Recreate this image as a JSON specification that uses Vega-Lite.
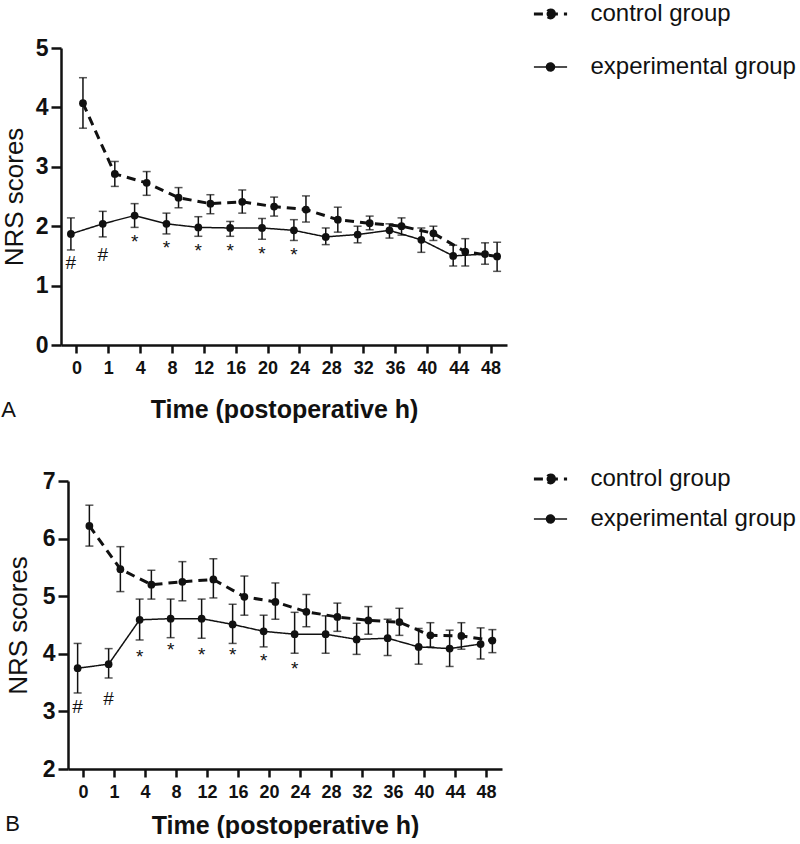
{
  "$schema": "https://vega.github.io/schema/vega-lite/v6.json",
  "padding": {"left": 1, "top": 2, "right": 0, "bottom": 0},
  "background": "white",
  "datasets": {
    "series": [
      {"p":"A","t":0,"g":"experimental group","m":1.87,"lo":1.60,"hi":2.14},
      {"p":"A","t":1,"g":"experimental group","m":2.04,"lo":1.82,"hi":2.25},
      {"p":"A","t":4,"g":"experimental group","m":2.18,"lo":1.98,"hi":2.38},
      {"p":"A","t":8,"g":"experimental group","m":2.04,"lo":1.87,"hi":2.22},
      {"p":"A","t":12,"g":"experimental group","m":1.98,"lo":1.83,"hi":2.16},
      {"p":"A","t":16,"g":"experimental group","m":1.97,"lo":1.83,"hi":2.08},
      {"p":"A","t":20,"g":"experimental group","m":1.97,"lo":1.78,"hi":2.13},
      {"p":"A","t":24,"g":"experimental group","m":1.93,"lo":1.76,"hi":2.11},
      {"p":"A","t":28,"g":"experimental group","m":1.82,"lo":1.69,"hi":1.97},
      {"p":"A","t":32,"g":"experimental group","m":1.86,"lo":1.72,"hi":2.00},
      {"p":"A","t":36,"g":"experimental group","m":1.93,"lo":1.80,"hi":2.04},
      {"p":"A","t":40,"g":"experimental group","m":1.77,"lo":1.56,"hi":1.97},
      {"p":"A","t":44,"g":"experimental group","m":1.50,"lo":1.33,"hi":1.68},
      {"p":"A","t":48,"g":"experimental group","m":1.53,"lo":1.36,"hi":1.72},
      {"p":"A","t":0,"g":"control group","m":4.07,"lo":3.65,"hi":4.50},
      {"p":"A","t":1,"g":"control group","m":2.88,"lo":2.67,"hi":3.09},
      {"p":"A","t":4,"g":"control group","m":2.73,"lo":2.52,"hi":2.92},
      {"p":"A","t":8,"g":"control group","m":2.48,"lo":2.31,"hi":2.65},
      {"p":"A","t":12,"g":"control group","m":2.38,"lo":2.21,"hi":2.53},
      {"p":"A","t":16,"g":"control group","m":2.41,"lo":2.22,"hi":2.61},
      {"p":"A","t":20,"g":"control group","m":2.33,"lo":2.17,"hi":2.49},
      {"p":"A","t":24,"g":"control group","m":2.28,"lo":2.07,"hi":2.51},
      {"p":"A","t":28,"g":"control group","m":2.11,"lo":1.90,"hi":2.32},
      {"p":"A","t":32,"g":"control group","m":2.05,"lo":1.94,"hi":2.17},
      {"p":"A","t":36,"g":"control group","m":2.00,"lo":1.85,"hi":2.14},
      {"p":"A","t":40,"g":"control group","m":1.88,"lo":1.76,"hi":2.00},
      {"p":"A","t":44,"g":"control group","m":1.57,"lo":1.33,"hi":1.79},
      {"p":"A","t":48,"g":"control group","m":1.49,"lo":1.24,"hi":1.73},
      {"p":"B","t":0,"g":"experimental group","m":3.75,"lo":3.32,"hi":4.18},
      {"p":"B","t":1,"g":"experimental group","m":3.82,"lo":3.58,"hi":4.09},
      {"p":"B","t":4,"g":"experimental group","m":4.59,"lo":4.24,"hi":4.95},
      {"p":"B","t":8,"g":"experimental group","m":4.61,"lo":4.28,"hi":4.95},
      {"p":"B","t":12,"g":"experimental group","m":4.61,"lo":4.27,"hi":4.95},
      {"p":"B","t":16,"g":"experimental group","m":4.51,"lo":4.18,"hi":4.86},
      {"p":"B","t":20,"g":"experimental group","m":4.39,"lo":4.12,"hi":4.67},
      {"p":"B","t":24,"g":"experimental group","m":4.34,"lo":4.01,"hi":4.72},
      {"p":"B","t":28,"g":"experimental group","m":4.34,"lo":4.01,"hi":4.66},
      {"p":"B","t":32,"g":"experimental group","m":4.25,"lo":3.99,"hi":4.53},
      {"p":"B","t":36,"g":"experimental group","m":4.27,"lo":3.97,"hi":4.60},
      {"p":"B","t":40,"g":"experimental group","m":4.12,"lo":3.82,"hi":4.44},
      {"p":"B","t":44,"g":"experimental group","m":4.09,"lo":3.78,"hi":4.41},
      {"p":"B","t":48,"g":"experimental group","m":4.17,"lo":3.91,"hi":4.45},
      {"p":"B","t":0,"g":"control group","m":6.22,"lo":5.87,"hi":6.58},
      {"p":"B","t":1,"g":"control group","m":5.47,"lo":5.08,"hi":5.86},
      {"p":"B","t":4,"g":"control group","m":5.20,"lo":4.95,"hi":5.45},
      {"p":"B","t":8,"g":"control group","m":5.25,"lo":4.92,"hi":5.60},
      {"p":"B","t":12,"g":"control group","m":5.29,"lo":4.97,"hi":5.65},
      {"p":"B","t":16,"g":"control group","m":4.99,"lo":4.67,"hi":5.35},
      {"p":"B","t":20,"g":"control group","m":4.90,"lo":4.60,"hi":5.23},
      {"p":"B","t":24,"g":"control group","m":4.73,"lo":4.47,"hi":5.03},
      {"p":"B","t":28,"g":"control group","m":4.64,"lo":4.39,"hi":4.88},
      {"p":"B","t":32,"g":"control group","m":4.58,"lo":4.34,"hi":4.82},
      {"p":"B","t":36,"g":"control group","m":4.55,"lo":4.32,"hi":4.79},
      {"p":"B","t":40,"g":"control group","m":4.32,"lo":4.12,"hi":4.54},
      {"p":"B","t":44,"g":"control group","m":4.31,"lo":4.08,"hi":4.54},
      {"p":"B","t":48,"g":"control group","m":4.23,"lo":4.02,"hi":4.42}
    ],
    "marks": [
      {"p":"A","t":0,"g":"experimental group","label":"#","v":1.38},
      {"p":"A","t":1,"g":"experimental group","label":"#","v":1.52},
      {"p":"A","t":4,"g":"experimental group","label":"*","v":1.74},
      {"p":"A","t":8,"g":"experimental group","label":"*","v":1.63},
      {"p":"A","t":12,"g":"experimental group","label":"*","v":1.59},
      {"p":"A","t":16,"g":"experimental group","label":"*","v":1.59},
      {"p":"A","t":20,"g":"experimental group","label":"*","v":1.53},
      {"p":"A","t":24,"g":"experimental group","label":"*","v":1.51},
      {"p":"B","t":0,"g":"experimental group","label":"#","v":3.07},
      {"p":"B","t":1,"g":"experimental group","label":"#","v":3.21},
      {"p":"B","t":4,"g":"experimental group","label":"*","v":3.95},
      {"p":"B","t":8,"g":"experimental group","label":"*","v":4.07},
      {"p":"B","t":12,"g":"experimental group","label":"*","v":3.98},
      {"p":"B","t":16,"g":"experimental group","label":"*","v":3.98},
      {"p":"B","t":20,"g":"experimental group","label":"*","v":3.87},
      {"p":"B","t":24,"g":"experimental group","label":"*","v":3.74}
    ]
  },
  "spacing": 45,
  "resolve": {
    "scale": {"strokeDash": "independent", "strokeWidth": "independent", "x": "independent", "xOffset": "independent", "y": "independent"},
    "legend": {"strokeDash": "independent"}
  },
  "vconcat": [
    {
      "width": 446,
      "height": 297,
      "title": {"text": "A", "orient": "bottom", "anchor": "start", "frame": "bounds", "fontSize": 22, "fontWeight": "normal", "offset": -22, "color": "#111"},
      "encoding": {
        "x": {"field": "t", "type": "ordinal", "scale": {"type": "band", "paddingInner": 0, "paddingOuter": 0},
              "axis": {"title": "Time (postoperative h)", "titlePadding": 20, "labelPadding": 6}},
        "xOffset": {"field": "g", "type": "nominal", "scale": {"domain": ["experimental group", "control group"], "paddingInner": 0, "paddingOuter": 0.32}}
      },
      "layer": [
        {
          "data": {"name": "series"},
          "transform": [{"filter": "datum.p === 'A'"}],
          "mark": {"type": "rule", "strokeWidth": 1.5, "color": "#111"},
          "encoding": {
            "y": {"field": "lo", "type": "quantitative", "scale": {"domain": [0, 5], "nice": false}, "axis": {"title": "NRS scores", "values": [0,1,2,3,4,5], "format": "d", "titlePadding": 8}},
            "y2": {"field": "hi"}
          }
        },
        {
          "data": {"name": "series"},
          "transform": [{"filter": "datum.p === 'A'"}],
          "mark": {"type": "tick", "size": 8, "thickness": 1.5, "color": "#111"},
          "encoding": {"y": {"field": "lo", "type": "quantitative"}}
        },
        {
          "data": {"name": "series"},
          "transform": [{"filter": "datum.p === 'A'"}],
          "mark": {"type": "tick", "size": 8, "thickness": 1.5, "color": "#111"},
          "encoding": {"y": {"field": "hi", "type": "quantitative"}}
        },
        {
          "data": {"name": "series"},
          "transform": [{"filter": "datum.p === 'A'"}],
          "mark": {"type": "line", "color": "#111"},
          "encoding": {
            "y": {"field": "m", "type": "quantitative"},
            "strokeDash": {"field": "g", "type": "nominal",
              "scale": {"domain": ["control group", "experimental group"], "range": [[9, 6], [1, 0]]},
              "legend": {"title": null, "orient": "none", "legendX": 477.5, "legendY": -46, "rowPadding": 29}},
            "strokeWidth": {"field": "g", "type": "nominal", "scale": {"domain": ["control group", "experimental group"], "range": [3, 1.5]}, "legend": null}
          }
        },
        {
          "data": {"name": "series"},
          "transform": [{"filter": "datum.p === 'A'"}],
          "mark": {"type": "point", "filled": true, "shape": "circle", "size": 60, "color": "#111", "opacity": 1},
          "encoding": {"y": {"field": "m", "type": "quantitative"}}
        },
        {
          "data": {"name": "marks"},
          "transform": [{"filter": "datum.p === 'A'"}],
          "mark": {"type": "text", "fontSize": 19, "color": "#111", "baseline": "middle"},
          "encoding": {"y": {"field": "v", "type": "quantitative"}, "text": {"field": "label"}}
        }
      ]
    },
    {
      "width": 441,
      "height": 288,
      "title": {"text": "B", "orient": "bottom", "anchor": "start", "frame": "bounds", "fontSize": 22, "fontWeight": "normal", "offset": -24, "color": "#111"},
      "encoding": {
        "x": {"field": "t", "type": "ordinal", "scale": {"type": "band", "paddingInner": 0, "paddingOuter": 0, "range": [7, 441]},
              "axis": {"title": "Time (postoperative h)", "titlePadding": 12, "labelPadding": 6}},
        "xOffset": {"field": "g", "type": "nominal", "scale": {"domain": ["experimental group", "control group"], "paddingInner": 0, "paddingOuter": 0.32}}
      },
      "layer": [
        {
          "data": {"name": "series"},
          "transform": [{"filter": "datum.p === 'B'"}],
          "mark": {"type": "rule", "strokeWidth": 1.5, "color": "#111"},
          "encoding": {
            "y": {"field": "lo", "type": "quantitative", "scale": {"domain": [2, 7], "nice": false}, "axis": {"title": "NRS scores", "values": [2,3,4,5,6,7], "format": "d", "titlePadding": 11, "offset": -7}},
            "y2": {"field": "hi"}
          }
        },
        {
          "data": {"name": "series"},
          "transform": [{"filter": "datum.p === 'B'"}],
          "mark": {"type": "tick", "size": 8, "thickness": 1.5, "color": "#111"},
          "encoding": {"y": {"field": "lo", "type": "quantitative"}}
        },
        {
          "data": {"name": "series"},
          "transform": [{"filter": "datum.p === 'B'"}],
          "mark": {"type": "tick", "size": 8, "thickness": 1.5, "color": "#111"},
          "encoding": {"y": {"field": "hi", "type": "quantitative"}}
        },
        {
          "data": {"name": "series"},
          "transform": [{"filter": "datum.p === 'B'"}],
          "mark": {"type": "line", "color": "#111"},
          "encoding": {
            "y": {"field": "m", "type": "quantitative"},
            "strokeDash": {"field": "g", "type": "nominal",
              "scale": {"domain": ["control group", "experimental group"], "range": [[9, 6], [1, 0]]},
              "legend": {"title": null, "orient": "none", "legendX": 477.5, "legendY": -14, "rowPadding": 16}},
            "strokeWidth": {"field": "g", "type": "nominal", "scale": {"domain": ["control group", "experimental group"], "range": [3, 1.5]}, "legend": null}
          }
        },
        {
          "data": {"name": "series"},
          "transform": [{"filter": "datum.p === 'B'"}],
          "mark": {"type": "point", "filled": true, "shape": "circle", "size": 60, "color": "#111", "opacity": 1},
          "encoding": {"y": {"field": "m", "type": "quantitative"}}
        },
        {
          "data": {"name": "marks"},
          "transform": [{"filter": "datum.p === 'B'"}],
          "mark": {"type": "text", "fontSize": 19, "color": "#111", "baseline": "middle"},
          "encoding": {"y": {"field": "v", "type": "quantitative"}, "text": {"field": "label"}}
        }
      ]
    }
  ],
  "config": {
    "font": "Liberation Sans",
    "view": {"stroke": null},
    "axis": {"grid": false, "domainColor": "#111", "domainWidth": 2.5, "tickColor": "#111", "tickWidth": 2.5, "labelColor": "#111", "titleColor": "#111"},
    "axisX": {"labelAngle": 0, "labelFontSize": 18, "labelFontWeight": "bold", "tickSize": 8, "titleFontSize": 25, "titleFontWeight": "bold"},
    "axisY": {"labelFontSize": 23, "labelFontWeight": "bold", "tickSize": 10, "labelPadding": 3, "titleFontSize": 26, "titleFontWeight": "normal"},
    "legend": {"padding": 0, "labelFontSize": 24, "labelLimit": 0, "labelColor": "#111", "labelOffset": 28, "symbolType": "M-2,0H2M0.48,0A0.48,0.48,0,1,1,-0.48,0A0.48,0.48,0,1,1,0.48,0Z", "symbolSize": 275, "symbolStrokeWidth": 2, "symbolStrokeColor": "#111", "symbolFillColor": "#111"}
  }
}
